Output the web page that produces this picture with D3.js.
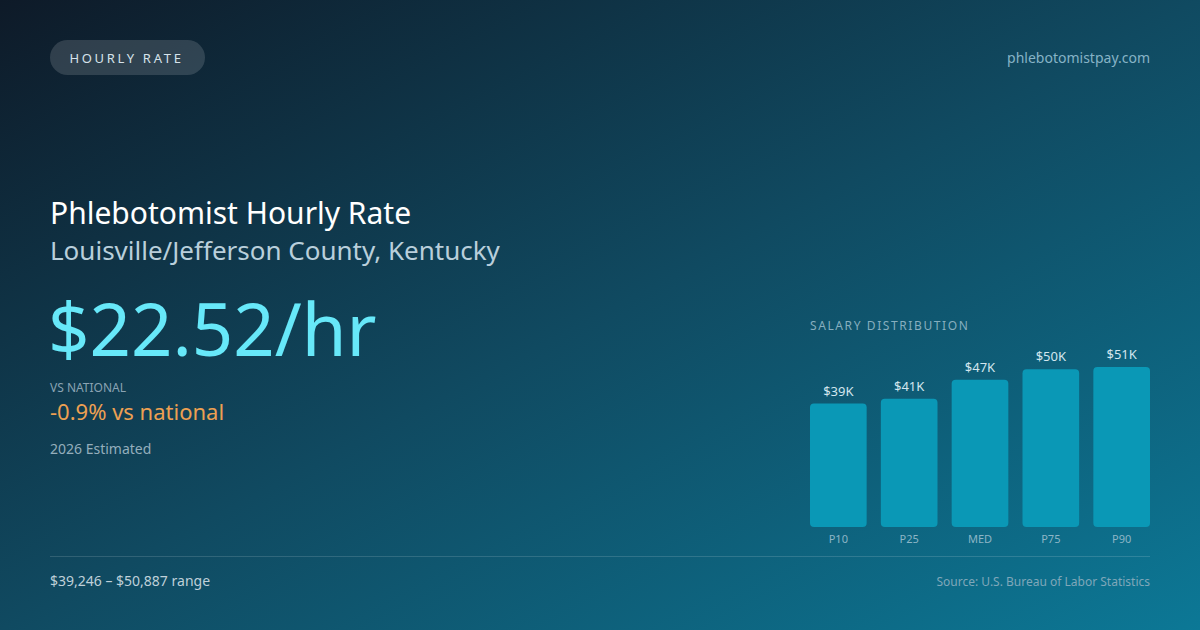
<!DOCTYPE html>
<html>
<head>
<meta charset="utf-8">
<script src="https://cdn.jsdelivr.net/npm/d3@7"></script>
<style>
html,body{margin:0;padding:0;background:#0f172a;}
svg{display:block;font-family:"Noto Sans","Open Sans",sans-serif;}
</style>
</head>
<body>
<svg id="chart" width="1200" height="630"></svg>
<script>
const categories = ["P10", "P25", "MED", "P75", "P90"];
const salaries = [39246, 40800, 46842, 50200, 50887];
const valueLabels = ["$39K", "$41K", "$47K", "$50K", "$51K"];

const svg = d3.select("#chart");
const W = 1200, H = 630;

// background gradient
const defs = svg.append("defs");
const g = defs.append("linearGradient").attr("id","bg")
  .attr("x1","0").attr("y1","0").attr("x2","1").attr("y2","1");
g.append("stop").attr("offset","0%").attr("stop-color","#0e1a28");
g.append("stop").attr("offset","50%").attr("stop-color","#104a61");
g.append("stop").attr("offset","100%").attr("stop-color","#0c7896");
svg.append("rect").attr("width",W).attr("height",H).attr("fill","url(#bg)");

// pill
svg.append("rect").attr("x",50).attr("y",40).attr("width",155).attr("height",35)
  .attr("rx",17.5).attr("fill","rgba(255,255,255,0.14)");
svg.append("text").attr("x",126.5).attr("y",63).attr("text-anchor","middle")
  .attr("font-size",13).attr("letter-spacing",2.7).attr("fill","#d6e2ea").text("HOURLY RATE");

svg.append("text").attr("x",1150).attr("y",63).attr("text-anchor","end")
  .attr("font-size",14).attr("fill","#86b3c6").text("phlebotomistpay.com");

// titles
svg.append("text").attr("x",50).attr("y",224).attr("font-size",30).attr("fill","#ffffff")
  .text("Phlebotomist Hourly Rate");
svg.append("text").attr("x",50).attr("y",260).attr("font-size",26).attr("fill","#b9cfdb")
  .text("Louisville/Jefferson County, Kentucky");

svg.append("text").attr("x",48).attr("y",356).attr("font-size",72.5).attr("fill","#67e8f9")
  .text("$22.52/hr");

svg.append("text").attr("x",50).attr("y",392).attr("font-size",12).attr("fill","#8aa3b3")
  .text("VS NATIONAL");
svg.append("text").attr("x",50).attr("y",420).attr("font-size",22).attr("fill","#eda052")
  .text("-0.9% vs national");
svg.append("text").attr("x",50).attr("y",454).attr("font-size",14).attr("fill","#94aebc")
  .text("2026 Estimated");

// bar chart
svg.append("text").attr("x",810).attr("y",330).attr("font-size",12).attr("letter-spacing",1.6)
  .attr("fill","#86aebf").text("SALARY DISTRIBUTION");

const x = d3.scaleBand().domain(categories).range([810,1150]).paddingInner(0.2).paddingOuter(0);
const y = d3.scaleLinear().domain([0, d3.max(salaries)]).range([527, 367]);

const bars = svg.append("g");
bars.selectAll("rect").data(salaries).join("rect")
  .attr("x",(d,i)=>x(categories[i]))
  .attr("y",d=>y(d))
  .attr("width",x.bandwidth())
  .attr("height",d=>y(0)-y(d))
  .attr("rx",4)
  .attr("fill","#0a98b6");

bars.selectAll("text.v").data(salaries).join("text").attr("class","v")
  .attr("x",(d,i)=>x(categories[i])+x.bandwidth()/2)
  .attr("y",d=>y(d)-8)
  .attr("text-anchor","middle").attr("font-size",13).attr("fill","#d3e6ee")
  .text((d,i)=>valueLabels[i]);

bars.selectAll("text.c").data(categories).join("text").attr("class","c")
  .attr("x",d=>x(d)+x.bandwidth()/2)
  .attr("y",543)
  .attr("text-anchor","middle").attr("font-size",11).attr("fill","#8cb5c6")
  .text(d=>d);

// separator
svg.append("line").attr("x1",50).attr("x2",1150).attr("y1",556.5).attr("y2",556.5)
  .attr("stroke","rgba(255,255,255,0.14)").attr("stroke-width",1);

svg.append("text").attr("x",50).attr("y",586).attr("font-size",14).attr("fill","#bfd0d9")
  .text("$39,246 – $50,887 range");
svg.append("text").attr("x",1150).attr("y",586).attr("text-anchor","end")
  .attr("font-size",12).attr("fill","#7fa7b9").text("Source: U.S. Bureau of Labor Statistics");
</script>
</body>
</html>
